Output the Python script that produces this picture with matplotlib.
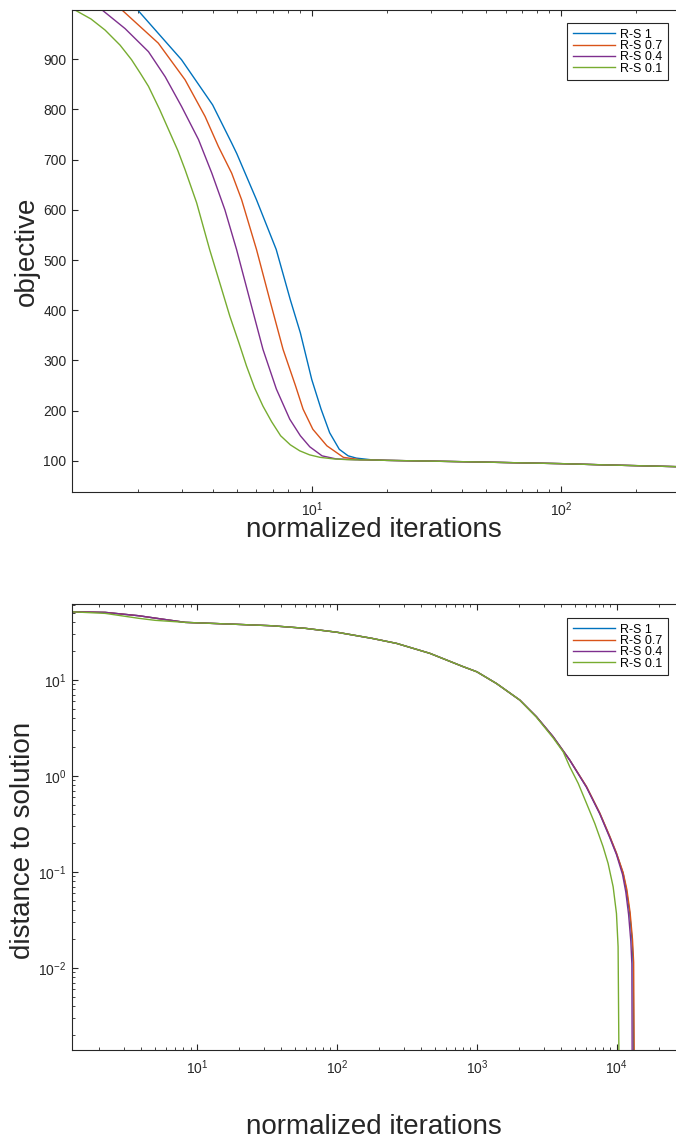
import numpy as np
import matplotlib.pyplot as plt
from matplotlib.ticker import LogLocator, NullFormatter

plt.rcParams['font.family'] = ['Liberation Sans', 'DejaVu Sans']
plt.rcParams['mathtext.fontset'] = 'custom'
plt.rcParams['mathtext.rm'] = 'Liberation Sans'
plt.rcParams['mathtext.it'] = 'Liberation Sans:italic'

# series names and MATLAB default colours
labels = ['R-S 1', 'R-S 0.7', 'R-S 0.4', 'R-S 0.1']
colors = ['#0072BD', '#D95319', '#7E2F8E', '#77AC30']

# top panel: objective vs normalized iterations (the tail is shared by all runs)
tail_x = [20, 30, 50, 70, 100, 150, 200, 290]
tail_y = [101, 99.5, 97.5, 96, 94.5, 92, 90.5, 88.5]

obj_x_rs1 = [1.95, 2.0, 3.0, 4.0, 4.77, 5.0, 6.0, 7.2, 8.2, 9.0, 10.0, 10.9, 11.8, 12.9, 14.0, 15.1, 17.6]
obj_y_rs1 = [1010, 998, 899, 809, 733, 712, 620, 521, 421, 355, 262, 203, 156, 123, 110, 105.5, 101.8]

obj_x_rs07 = [1.70, 1.73, 2.42, 3.10, 3.73, 4.22, 4.77, 5.23, 6.0, 6.78, 7.67, 8.6, 9.23, 10.1, 11.5, 13.4, 15.6, 17.6]
obj_y_rs07 = [1010, 998, 932, 859, 786, 726, 673, 620, 521, 421, 322, 250, 203, 163, 130, 107, 102.5, 101.8]

obj_x_rs04 = [1.42, 1.44, 1.78, 2.21, 2.58, 3.0, 3.51, 3.97, 4.48, 4.99, 5.64, 6.37, 7.21, 8.16, 9.0, 9.82, 11.0, 12.5, 15.0, 17.6]
obj_y_rs04 = [1010, 998, 961, 915, 865, 806, 740, 673, 600, 521, 421, 322, 243, 183, 150, 128, 110, 104, 102.2, 101.8]

obj_x_rs01 = [1.09, 1.12, 1.3, 1.48, 1.7, 1.89, 2.05, 2.21, 2.45, 2.66, 2.9, 3.10, 3.45, 3.89, 4.3, 4.69,
              5.1, 5.47, 5.9, 6.37, 6.9, 7.5, 8.2, 8.95, 9.8, 10.8, 12.2, 13.8, 15.5, 17.6]
obj_y_rs01 = [1002, 998, 980, 958, 928, 899, 872, 846, 800, 760, 718, 680, 614, 521, 450, 388,
              335, 289, 245, 209, 178, 150, 132, 120, 112, 107, 104, 102.5, 102, 101.8]

# bottom panel: distance to solution (shared start, different ends)
head_x = [1.28, 2.21, 3.83, 5.03, 8.25, 19.9, 34.3, 59.4, 100, 178, 267, 461, 798, 1000, 1383, 2028]
head_y = [51.4, 50.7, 46.8, 44.2, 39.9, 38, 36.8, 34.6, 31.5, 27.2, 24.1, 19, 13.8, 12.2, 9.2, 6.19]
head_y_rs01 = [51.4, 49.5, 44, 41.9, 39.9, 38, 36.8, 34.6, 31.5, 27.2, 24.1, 19, 13.8, 12.2, 9.2, 6.19]

end_x_rs1 = [2667, 3508, 4613, 6070, 7560, 8913, 9950, 11100, 11720, 12380, 12860, 13090, 13350]
end_y_rs1 = [4.15, 2.57, 1.47, 0.774, 0.409, 0.233, 0.156, 0.0969, 0.065, 0.037, 0.0196, 0.0112, 1e-4]

end_x_rs07 = [2667, 3508, 4613, 6070, 7560, 8913, 9950, 11100, 11800, 12450, 12950, 13200, 13450]
end_y_rs07 = [4.15, 2.57, 1.47, 0.78, 0.413, 0.236, 0.158, 0.099, 0.066, 0.038, 0.02, 0.0115, 1e-4]

end_x_rs04 = [2667, 3508, 4613, 6070, 7560, 8913, 9950, 11000, 11600, 12150, 12600, 12820, 12950]
end_y_rs04 = [4.15, 2.57, 1.46, 0.765, 0.403, 0.228, 0.152, 0.094, 0.062, 0.036, 0.019, 0.011, 1e-4]

end_x_rs01 = [2667, 3508, 4140, 4613, 5300, 6077, 6970, 7980, 8670, 9420, 9950, 10220, 10500]
end_y_rs01 = [4.1, 2.5, 1.79, 1.25, 0.84, 0.52, 0.32, 0.184, 0.123, 0.0703, 0.037, 0.0167, 1e-4]

obj_x = [obj_x_rs1, obj_x_rs07, obj_x_rs04, obj_x_rs01]
obj_y = [obj_y_rs1, obj_y_rs07, obj_y_rs04, obj_y_rs01]
dist_x = [head_x + end_x_rs1, head_x + end_x_rs07, head_x + end_x_rs04, head_x + end_x_rs01]
dist_y = [head_y + end_y_rs1, head_y + end_y_rs07, head_y + end_y_rs04, head_y_rs01 + end_y_rs01]

dark = '#262626'
W, H = 676, 1145
fig = plt.figure(figsize=(W / 100, H / 100), dpi=100)
ax1 = fig.add_axes([72 / W, 1 - 492 / H, 1 - 72 / W, 482 / H])
ax2 = fig.add_axes([72 / W, 1 - 1050 / H, 1 - 72 / W, 446 / H])


def style(ax, w_px, h_px, leg_top):
    for s in ['left', 'top', 'bottom']:
        ax.spines[s].set_color(dark)
        ax.spines[s].set_linewidth(0.8)
    ax.spines['right'].set_visible(False)
    ax.tick_params(which='both', direction='in', top=True, right=False,
                   colors=dark, labelsize=10, pad=4)
    ax.tick_params(axis='x', which='both', pad=6)
    ax.tick_params(which='major', length=4.5, width=0.8)
    ax.tick_params(which='minor', length=2.5, width=0.6)
    ax.xaxis.set_minor_formatter(NullFormatter())
    leg = ax.legend(labels, loc='upper right',
                    bbox_to_anchor=(1 - 8 / w_px, 1 - leg_top / h_px),
                    borderaxespad=0, fontsize=9, fancybox=False,
                    edgecolor=dark, framealpha=1, handlelength=3.4,
                    handletextpad=0.38, borderpad=0.45, labelspacing=-0.05)
    leg.get_frame().set_linewidth(0.8)


# top: objective
for x, y, c in zip(obj_x, obj_y, colors):
    ax1.plot(x + tail_x, y + tail_y, color=c, lw=1.0)
ax1.set_xscale('log')
ax1.set_xlim(1.09, 290)
ax1.set_ylim(38, 998)
ax1.set_yticks(np.arange(100, 1000, 100))
ax1.set_xlabel('normalized iterations', fontsize=20, color=dark, va='center')
ax1.xaxis.set_label_coords(0.5, (492 - 530) / 482)
ax1.set_ylabel('objective', fontsize=20, color=dark, va='center')
ax1.yaxis.set_label_coords((27 - 72) / 604, 0.5)
style(ax1, 604, 482, 13)

# bottom: distance to solution
for x, y, c in zip(dist_x, dist_y, colors):
    ax2.plot(x, y, color=c, lw=1.0)
ax2.set_xscale('log')
ax2.set_yscale('log')
ax2.set_xlim(1.28, 26500)
ax2.set_ylim(0.0014, 62)
ax2.yaxis.set_minor_locator(LogLocator(subs=np.arange(2, 10)))
ax2.yaxis.set_minor_formatter(NullFormatter())
ax2.set_xlabel('normalized iterations', fontsize=20, color=dark, va='center')
ax2.xaxis.set_label_coords(0.5, (1050 - 1127) / 446)
ax2.set_ylabel('distance to solution', fontsize=20, color=dark, va='center')
ax2.yaxis.set_label_coords((23 - 72) / 604, (1050 - 840) / 446)
style(ax2, 604, 446, 14)

fig.savefig('out.png', dpi=100)
